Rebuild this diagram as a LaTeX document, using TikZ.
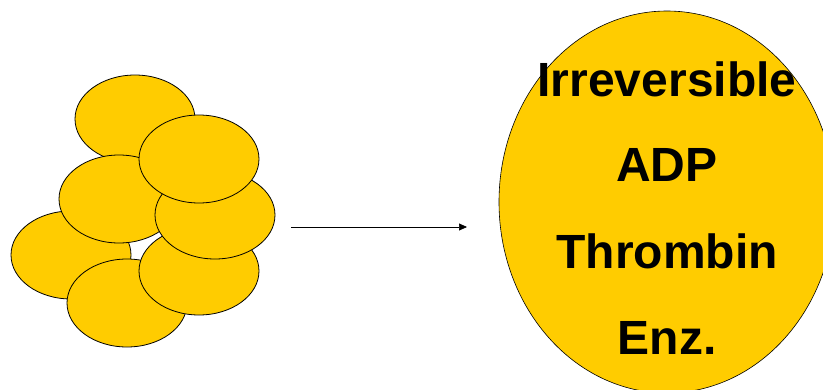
\documentclass[tikz,border=0pt]{standalone}
\usepackage{fontspec}
\setmainfont{Liberation Sans}
\usetikzlibrary{shapes.geometric,arrows.meta}
\definecolor{cellgold}{RGB}{255,204,0}
\tikzset{
  cell/.style={ellipse,draw=black,fill=cellgold,line width=0.8pt,minimum width=120pt,minimum height=88pt,inner sep=0pt},
  bigcell/.style={ellipse,draw=black,fill=cellgold,line width=0.6pt,minimum width=336pt,minimum height=382pt,inner sep=0pt},
  biglabel/.style={font=\fontsize{48pt}{48pt}\selectfont\bfseries,inner sep=0pt,anchor=center},
}
\begin{document}
\begin{tikzpicture}[x=1pt,y=-1pt]
\useasboundingbox (0,0) rectangle (823,389);
% platelet cluster, back to front
\node[cell] (c1) at (135,119) {};
\node[cell] (c2) at (71,255) {};
\node[cell] (c3) at (119,199) {};
\node[cell] (c4) at (127,303) {};
\node[cell] (c5) at (199,271) {};
\node[cell] (c6) at (215,215) {};
\node[cell] (c7) at (199,159) {};
% activated platelet, cut off by the page edge
\begin{scope}
\clip (0,0) rectangle (823,389);
\node[bigcell] (big) at (667,202) {};
\end{scope}
\node[biglabel] (t1) at (667,79) {Irreversible};
\node[biglabel] (t2) at (667,165) {ADP};
\node[biglabel] (t3) at (667,251) {Thrombin};
\node[biglabel] (t4) at (667,338) {Enz.};
% activation arrow
\coordinate (arrowstart) at (291,227);
\coordinate (arrowend) at (467,227);
\draw[-{Triangle[length=8pt,width=7pt]},line width=0.7pt] (arrowstart) -- (arrowend);
\end{tikzpicture}
\end{document}
